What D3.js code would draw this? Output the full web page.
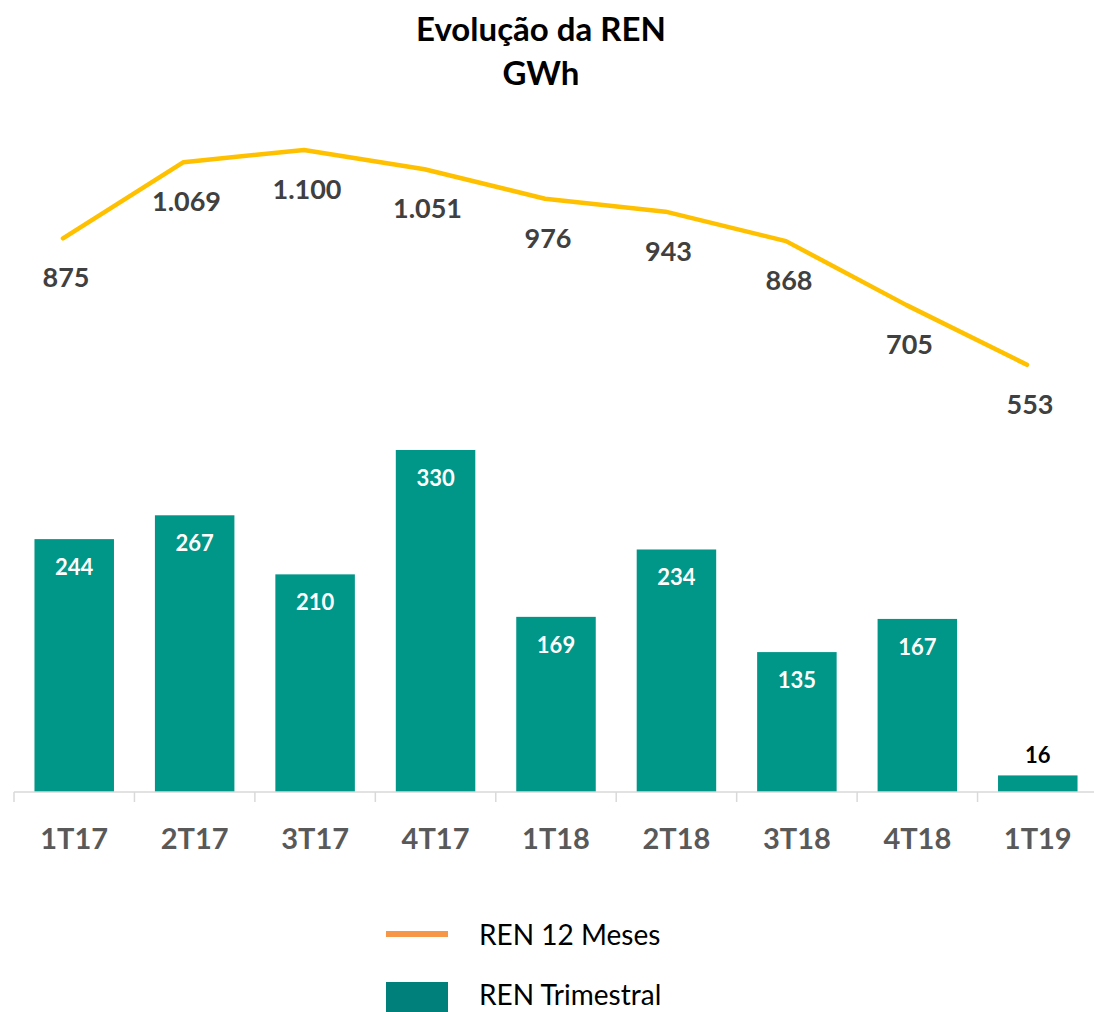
<!DOCTYPE html>
<html lang="pt">
<head>
<meta charset="UTF-8">
<script src="https://d3js.org/d3.v7.min.js"></script>
<style>
  body { margin: 0; background: #fff; }
  text { font-family: Lato, "Open Sans", sans-serif; }
</style>
</head>
<body>
<svg width="1094" height="1012"></svg>
<script>
// data
var categories = ["1T17", "2T17", "3T17", "4T17", "1T18", "2T18", "3T18", "4T18", "1T19"];
var trimestral = [244, 267, 210, 330, 169, 234, 135, 167, 16];   // bars
var meses12 = [875, 1069, 1100, 1051, 976, 943, 868, 705, 553];  // line
var lineLabels = ["875", "1.069", "1.100", "1.051", "976", "943", "868", "705", "553"];

var barColor = "#009688",
    lineColor = "#FFC000";

var svg = d3.select("svg");

// category axis spans the full width
var x = d3.scaleBand().domain(categories).range([14, 1098]).paddingInner(0.34).paddingOuter(0.17);
var yBar = d3.scaleLinear().domain([0, 330]).range([792, 450]);

// line sits on its own (secondary) axis, shifted slightly left like the original
var xLine = d3.scalePoint().domain(categories).range([63, 1027]);
var yLine = d3.scaleLinear().domain([0, 1100]).range([582, 150]);

// title
svg.append("text").attr("x", 541).attr("y", 41).attr("text-anchor", "middle")
  .style("font-size", "33px").style("font-weight", "bold").text("Evolução da REN");
svg.append("text").attr("x", 541).attr("y", 85).attr("text-anchor", "middle")
  .style("font-size", "33px").style("font-weight", "bold").text("GWh");

// bars
svg.selectAll(".bar").data(trimestral).enter().append("rect")
  .attr("x", function(d, i) { return x(categories[i]); })
  .attr("y", function(d) { return yBar(d); })
  .attr("width", x.bandwidth())
  .attr("height", function(d) { return yBar(0) - yBar(d); })
  .attr("fill", barColor);

// bar labels: inside the top, except the tiny last one
svg.selectAll(".barlbl").data(trimestral).enter().append("text")
  .attr("x", function(d, i) { return x(categories[i]) + x.bandwidth() / 2; })
  .attr("y", function(d) { return d < 40 ? yBar(d) - 12 : yBar(d) + 36; })
  .attr("text-anchor", "middle")
  .style("font-size", "22px").style("font-weight", "bold")
  .attr("fill", function(d) { return d < 40 ? "#000" : "#fff"; })
  .text(function(d) { return d; });

// category axis
var axis = svg.append("g").attr("transform", "translate(0,792)");
axis.append("line").attr("x1", 14).attr("x2", 1098).attr("stroke", "#d9d9d9").attr("stroke-width", 1.5);
d3.range(categories.length + 1).forEach(function(i) {
  var tx = 14 + i * (1084 / categories.length);
  axis.append("line").attr("x1", tx).attr("x2", tx).attr("y1", 0).attr("y2", 10)
    .attr("stroke", "#d9d9d9").attr("stroke-width", 1.5);
});
svg.selectAll(".cat").data(categories).enter().append("text")
  .attr("x", function(d) { return x(d) + x.bandwidth() / 2; })
  .attr("y", 849)
  .attr("text-anchor", "middle")
  .style("font-size", "29px").style("font-weight", "bold")
  .attr("fill", "#595959")
  .text(function(d) { return d; });

// 12-month line
var line = d3.line()
  .x(function(d, i) { return xLine(categories[i]); })
  .y(function(d) { return yLine(d); });
svg.append("path").datum(meses12)
  .attr("d", line)
  .attr("fill", "none")
  .attr("stroke", lineColor)
  .attr("stroke-width", 4.5)
  .attr("stroke-linecap", "round")
  .attr("stroke-linejoin", "round");

svg.selectAll(".linelbl").data(meses12).enter().append("text")
  .attr("x", function(d, i) { return xLine(categories[i]) + 3; })
  .attr("y", function(d) { return yLine(d) + 49; })
  .attr("text-anchor", "middle")
  .style("font-size", "27px").style("font-weight", "bold")
  .attr("fill", "#404040")
  .text(function(d, i) { return lineLabels[i]; });

// legend
var legend = svg.append("g");
legend.append("line").attr("x1", 386).attr("x2", 448).attr("y1", 934).attr("y2", 934)
  .attr("stroke", "#F79646").attr("stroke-width", 6);
legend.append("text").attr("x", 479).attr("y", 945)
  .style("font-size", "28px").attr("fill", "#000").text("REN 12 Meses");
legend.append("rect").attr("x", 386).attr("y", 982).attr("width", 62).attr("height", 32)
  .attr("fill", "#00807B");
legend.append("text").attr("x", 479).attr("y", 1005)
  .style("font-size", "28px").attr("fill", "#000").text("REN Trimestral");
</script>
</body>
</html>
